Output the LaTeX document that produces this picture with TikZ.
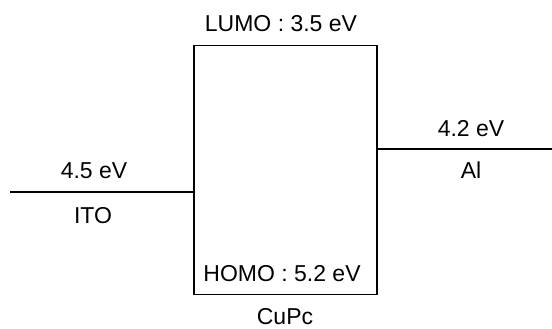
\documentclass[tikz,border=0pt]{standalone}
\usepackage{fontspec}
\setmainfont{Liberation Sans}
\usetikzlibrary{positioning}

\tikzset{
  level/.style={line width=0.75pt},
  label text/.style={font=\fontsize{11.5}{13}\selectfont, inner sep=0pt}
}

\begin{document}
\begin{tikzpicture}[x=0.5pt,y=0.5pt]
  \useasboundingbox (0,0) rectangle (552,328);
  % CuPc box
  \node[draw,level,minimum width=91.5pt,minimum height=124.5pt,inner sep=0pt,anchor=south west]
    (cupc) at (193,33) {};
  % Electrode levels
  \coordinate (itoL) at (10,136);
  \coordinate (alR) at (552,179);
  \draw[level] (itoL) -- (itoL -| cupc.west);
  \draw[level] (alR -| cupc.east) -- (alR);
  % Labels
  \node[label text] (lumo) at (281,304) {LUMO : 3.5 eV};
  \node[label text] (homo) at (282,54) {HOMO : 5.2 eV};
  \node[label text] (cupcname) at (285,11) {CuPc};
  \node[label text] (itoval) at (94,157) {4.5 eV};
  \node[label text] (itoname) at (93,112) {ITO};
  \node[label text] (alval) at (471,199) {4.2 eV};
  \node[label text] (alname) at (471,158) {Al};
\end{tikzpicture}
\end{document}
